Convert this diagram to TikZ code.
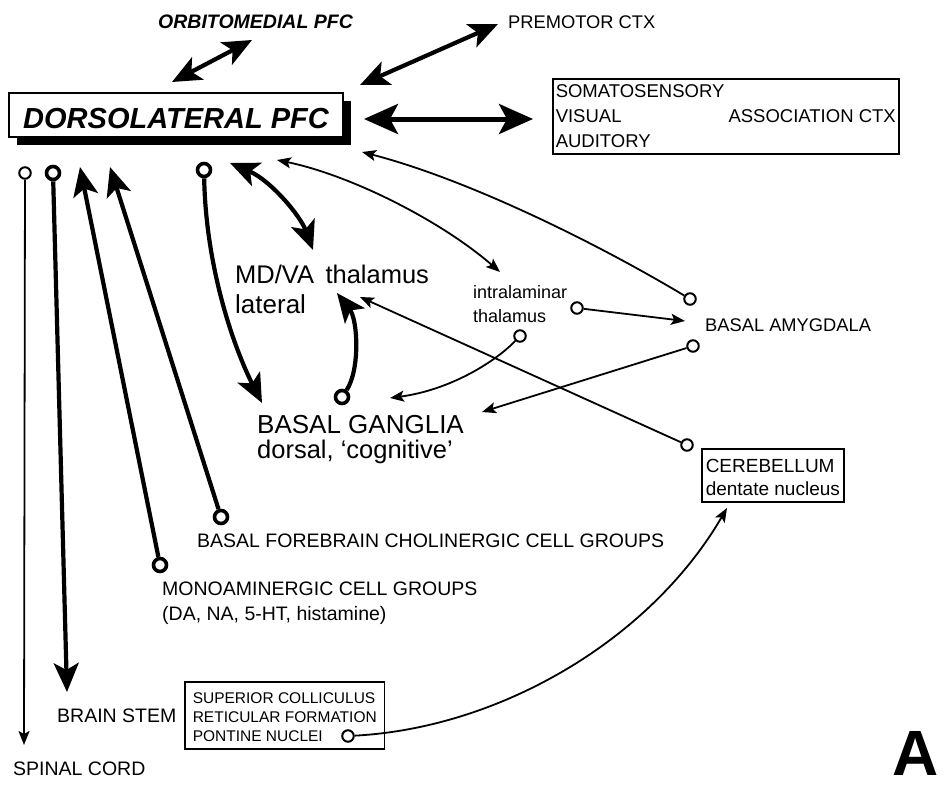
\documentclass[tikz,border=0pt]{standalone}
\usepackage{fontspec}
\setmainfont{Liberation Sans}
\usetikzlibrary{arrows.meta,shadows}

\newcommand{\fs}[2]{\fontsize{#1}{#2}\selectfont}
\tikzset{
  cell/.style={circle, draw, fill=white, inner sep=0pt, minimum size=11.5pt, line width=2pt},
  bigcell/.style={cell, minimum size=13pt, line width=3.6pt},
  txt/.style={anchor=base west, inner sep=0pt},
  frame/.style={draw, line width=1.5pt, anchor=base west, inner ysep=0pt},
}

\begin{document}
\begin{tikzpicture}[x=1pt, y=-1pt]
  \useasboundingbox (0,0) rectangle (945,787);

  % boxes
  \node[draw, fill=white, line width=1.8pt, minimum width=334pt, minimum height=44pt,
        inner sep=0pt, text height=26pt, text depth=0pt, font=\fs{29}{30}\bfseries\itshape,
        drop shadow={shadow xshift=8pt, shadow yshift=-8pt, fill=black, opacity=1}]
        (dlpfc) at (176,115) {DORSOLATERAL PFC};
  \node[frame, inner xsep=3pt, text height=18pt, text depth=57pt, font=\fs{18.5}{25}] (assoc) at (552,97)
        {\begin{tabular*}{340pt}[t]{@{}l@{\extracolsep{\fill}}r@{}}SOMATOSENSORY & \\ VISUAL & ASSOCIATION CTX\\ AUDITORY & \end{tabular*}};
  \node[frame, inner xsep=4pt, text height=23pt, text depth=30pt, font=\fs{19}{23}] (cer) at (701,472)
        {\begin{tabular}[t]{@{}l@{}}CEREBELLUM\\dentate nucleus\end{tabular}};
  \node[frame, inner xsep=8pt, text height=21pt, text depth=46pt, font=\fs{15.5}{19}] (bsbox) at (184,703)
        {\begin{tabular}[t]{@{}l@{}}SUPERIOR COLLICULUS\\RETICULAR FORMATION\\PONTINE NUCLEI\end{tabular}};

  % labels
  \begin{scope}[every node/.style={txt, font=\fs{19.5}{23}}]
    \node[font=\fs{19.5}{20}\bfseries\itshape] (omfc) at (158,28) {ORBITOMEDIAL PFC};
    \node[font=\fs{18.3}{20}] (premotor) at (508,28.5) {PREMOTOR CTX};
    \node[font=\fs{25.5}{26}] (thal) at (235,283) {MD/VA\hspace{0.45em}thalamus};
    \node[font=\fs{26}{26}] (lat) at (235,313) {lateral};
    \node[font=\fs{18}{24}] (ilt) at (473,298) {\begin{tabular}[t]{@{}l@{}}intralaminar\\thalamus\end{tabular}};
    \node[font=\fs{18.3}{20}] (amy) at (705,331.5) {BASAL AMYGDALA};
    \node[font=\fs{26}{26}] (bg) at (257,433) {BASAL GANGLIA};
    \node[font=\fs{25.5}{26}] (bgd) at (257,458) {dorsal, `cognitive'};
    \node (bfc) at (197,547) {BASAL FOREBRAIN CHOLINERGIC CELL GROUPS};
    \node (mono) at (162,595) {MONOAMINERGIC CELL GROUPS};
    \node (mono2) at (162,620) {(DA, NA, 5-HT, histamine)};
    \node (bs) at (57,722) {BRAIN STEM};
    \node (spinal) at (13,775) {SPINAL CORD};
    \node[font=\fs{64}{64}\bfseries] (A) at (892,775) {A};
  \end{scope}

  % cell groups
  \begin{scope}[every node/.style={cell}]
    \node (c_sp) at (25,173) {};
    \node[bigcell] (c_bs) at (53,173) {};
    \node[bigcell] (c_bg) at (204,170) {};
    \node[bigcell] (c_mono) at (160,565) {};
    \node[bigcell] (c_bfc) at (221,517) {};
    \node[bigcell] (c_bgth) at (342,397) {};
    \node (c_ilt1) at (577,308) {};
    \node (c_ilt2) at (520,336) {};
    \node (c_amy1) at (690,299) {};
    \node (c_amy2) at (693,346) {};
    \node (c_cer) at (687,445) {};
    \node (c_pn) at (348,736) {};
  \end{scope}

  % arrow ends
  \coordinate (t_om1) at (172,82);
  \coordinate (t_om2) at (252,40);
  \coordinate (t_pm1) at (360,85);
  \coordinate (t_pm2) at (498,24);
  \coordinate (t_as1) at (364,119);
  \coordinate (t_as2) at (533,119);
  \coordinate (t_bs) at (67,692);
  \coordinate (t_mono) at (80,167);
  \coordinate (t_bfc) at (110,167);
  \coordinate (t_bg1) at (262,403);
  \coordinate (t_th1) at (230,163);
  \coordinate (t_th2) at (313,250);
  \coordinate (t_th3) at (337,293);
  \coordinate (t_sp) at (24,745);
  \coordinate (t_il1) at (277,160);
  \coordinate (t_il2) at (500,272);
  \coordinate (t_amy) at (362,152);
  \coordinate (t_amy2) at (685,321);
  \coordinate (t_bg2) at (390,398);
  \coordinate (t_bg3) at (482,412);
  \coordinate (t_th4) at (360,297);
  \coordinate (t_cer) at (727,508);

  % heavy projections
  \begin{scope}[line width=4.2pt, >={Stealth[length=29pt, width=25pt, inset=7pt]}]
    \draw[<->] (t_om1) -- (t_om2);
    \draw[<->] (t_pm1) -- (t_pm2);
    \draw[<->, line width=5pt, >={Stealth[length=34pt, width=30pt, inset=8pt]}] (t_as1) -- (t_as2);
    \draw[->] (c_bs) -- (t_bs);
    \draw[->] (c_mono) -- (t_mono);
    \draw[->] (c_bfc) -- (t_bfc);
    \draw[->] (c_bg) .. controls (206,270) and (235,350) .. (t_bg1);
    \draw[<->] (t_th1) .. controls (270,180) and (300,215) .. (t_th2);
    \draw[->] (c_bgth) .. controls (360,370) and (358,320) .. (t_th3);
  \end{scope}

  % light projections
  \begin{scope}[line width=1.8pt, >={Stealth[length=14pt, width=11pt, inset=3pt]}]
    \draw[->] (c_sp) -- (t_sp);
    \draw[<->] (t_il1) .. controls (350,175) and (440,220) .. (t_il2);
    \draw[->] (c_amy1) .. controls (600,245) and (470,180) .. (t_amy);
    \draw[->] (c_ilt1) -- (t_amy2);
    \draw[->] (c_ilt2) .. controls (495,362) and (450,390) .. (t_bg2);
    \draw[->] (c_amy2) -- (t_bg3);
    \draw[->] (c_cer) -- (t_th4);
    \draw[->] (c_pn) .. controls (500,728) and (650,640) .. (t_cer);
  \end{scope}
\end{tikzpicture}
\end{document}
